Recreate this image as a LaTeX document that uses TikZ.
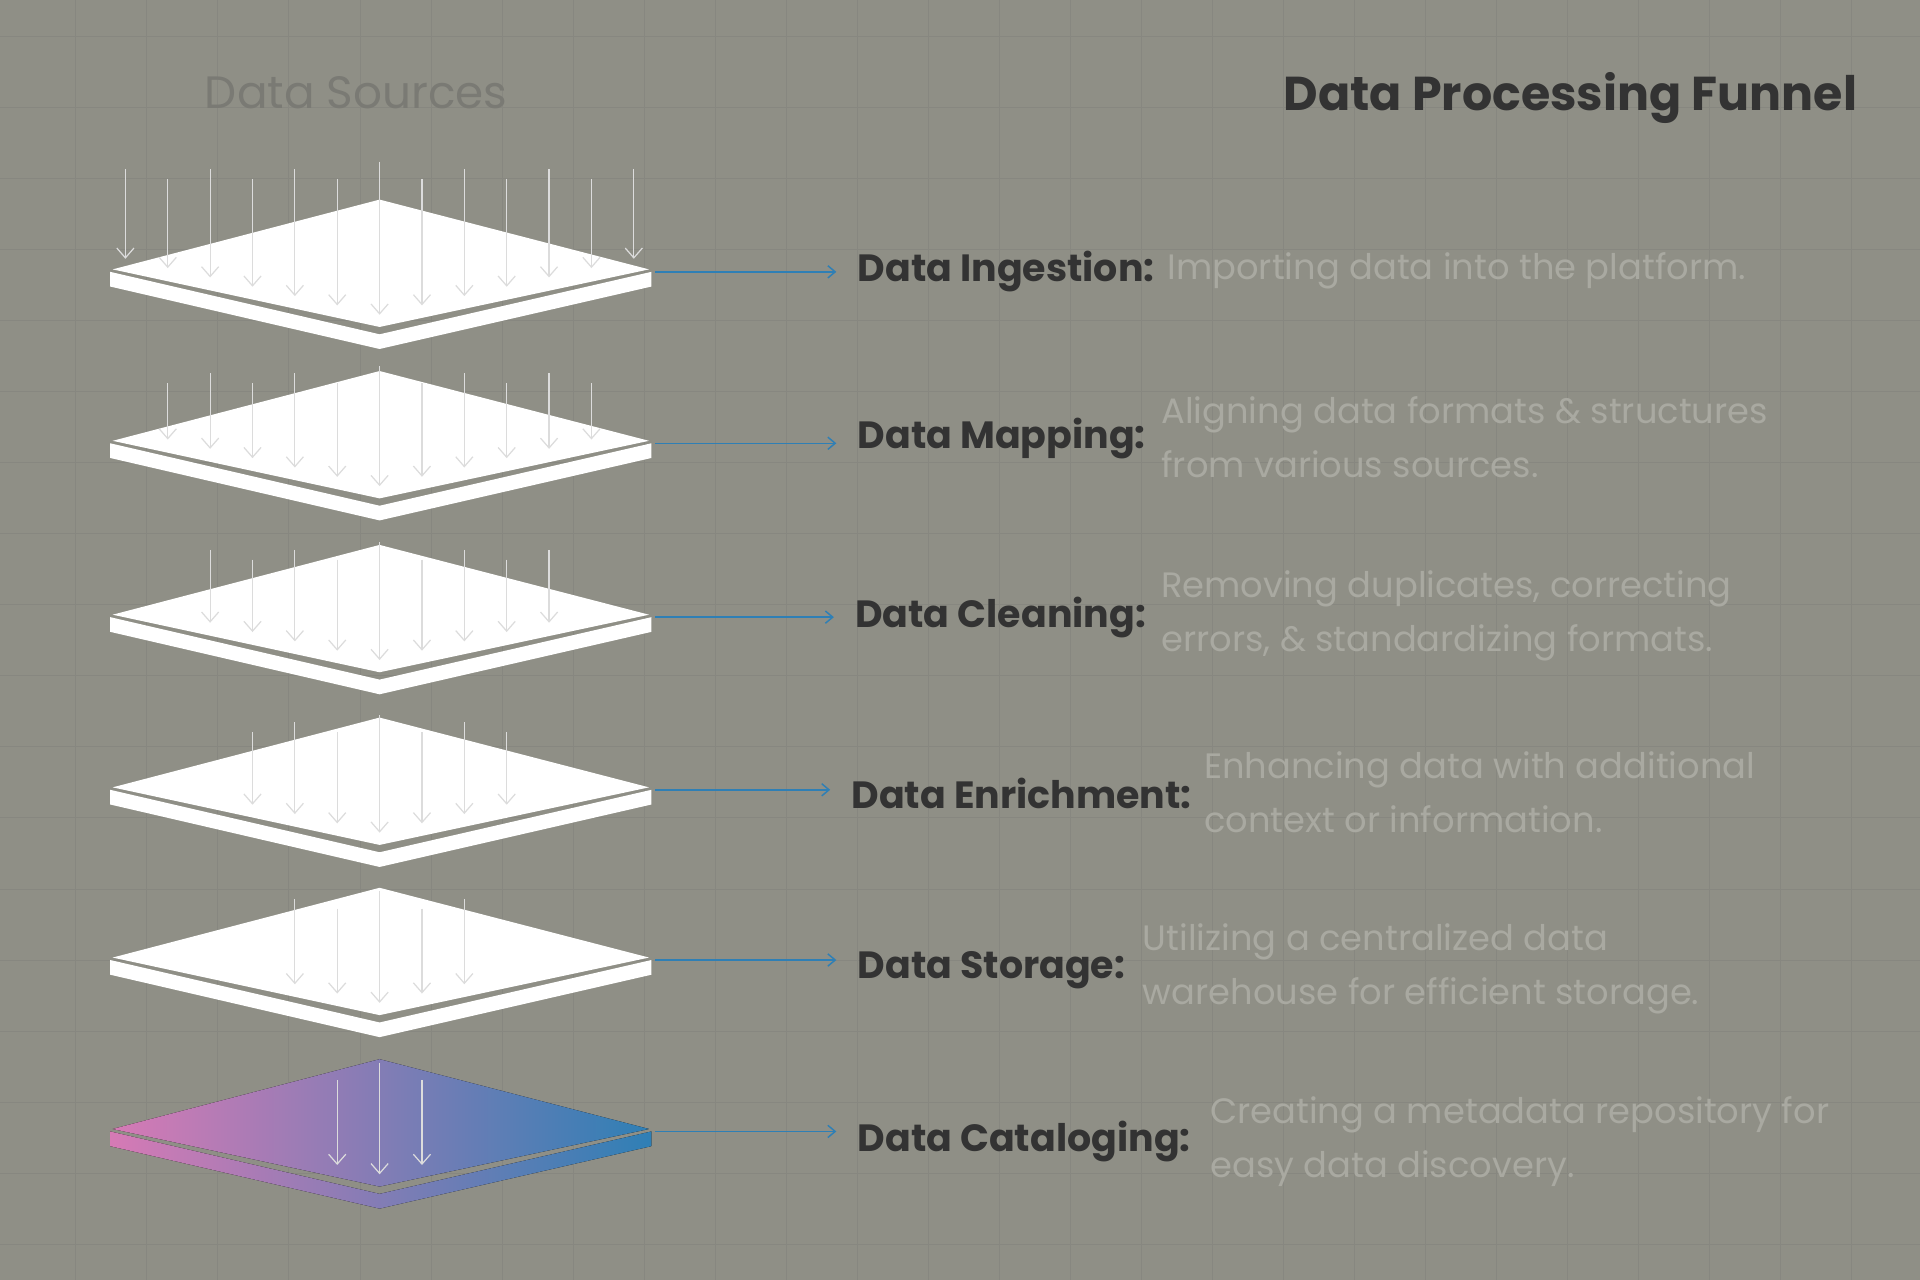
\documentclass[tikz,border=0pt]{standalone}
\usepackage{fontspec}
\setmainfont{Poppins}
\usetikzlibrary{positioning,arrows.meta}
\definecolor{BgGray}{HTML}{8F8F86}
\definecolor{GridGray}{HTML}{878780}
\definecolor{LinkBlue}{HTML}{2F7FB5}
\definecolor{FunnelPink}{HTML}{D67AB5}
\definecolor{TitleDark}{HTML}{333333}
\definecolor{DescGray}{HTML}{A9A9A1}
\definecolor{SourceGray}{HTML}{7A7A74}
\definecolor{DropGray}{HTML}{DCDCDC}
\begin{document}
\begin{tikzpicture}[x=0.5pt,y=-0.5pt]
  \tikzset{StepLabelStyle/.style = {
    anchor        = west,
    text          = TitleDark,
    font          = \fontsize{15.5}{18}\selectfont\bfseries,
    inner sep     = 0pt
    }
  }
  \tikzset{DescStyle/.style = {
    anchor        = west,
    align         = left,
    text          = DescGray,
    font          = \fontsize{14.4}{22}\selectfont,
    inner sep     = 0pt
    }
  }
  \tikzset{LinkStyle/.style = {
    draw          = LinkBlue,
    line width    = 0.6pt,
    shorten >     = 8.5pt,
    -{Straight Barb[length=3pt,width=5pt]}
    }
  }
  \tikzset{DropStyle/.style = {
    draw          = DropGray,
    line width    = 0.5pt,
    -{Straight Barb[length=4pt,width=7pt]}
    }
  }
  \fill[BgGray] (0,0) rectangle (1568,1045);
  \useasboundingbox (0,0) rectangle (1568,1045);
  \foreach \gx in {62,120,...,1568} \draw[GridGray,line width=0.4pt] (\gx,0) -- (\gx,1045);
  \foreach \gy in {30,88,...,1045} \draw[GridGray,line width=0.4pt] (0,\gy) -- (1568,\gy);

  % layers: name / centre y / number of drops / first top offset
  \foreach \name/\cy/\n/\tp in {ing/222/6/84,map/362/5/57,cln/504/4/55,enr/645/3/55,sto/784/2/50,cat/924/1/50}{
    \ifnum\n=1
      \fill[left color=FunnelPink,right color=LinkBlue] (90,\cy) -- (310,\cy+51) -- (532,\cy) -- (532,\cy+12) -- (310,\cy+63) -- (90,\cy+12) -- cycle;
      \fill[left color=FunnelPink,right color=LinkBlue] (92,\cy-2) -- (310,\cy-59) -- (530,\cy-2) -- (310,\cy+45) -- cycle;
    \else
      \fill[white] (90,\cy) -- (310,\cy+51) -- (532,\cy) -- (532,\cy+12) -- (310,\cy+63) -- (90,\cy+12) -- cycle;
      \fill[white] (92,\cy-2) -- (310,\cy-59) -- (530,\cy-2) -- (310,\cy+45) -- cycle;
    \fi
    \coordinate (\name) at (535,\cy);
    \foreach \k in {-\n,...,\n}{
      \pgfmathsetmacro{\dx}{34.6*\k}
      \pgfmathsetmacro{\tip}{\cy+35-abs(\dx)*0.22}
      \pgfmathsetmacro{\dtop}{\cy-\tp+8*mod(abs(\k),2)+(\k==0 ? -6 : 0)}
      \draw[DropStyle] (310+\dx,\dtop) -- (310+\dx,\tip);
    }
  }

  \node[anchor=west,text=SourceGray,font=\fontsize{18.5}{20}\selectfont,inner sep=0pt](sources) at (167,76) {Data Sources};
  \node[anchor=east,text=TitleDark,font=\fontsize{19.4}{22}\selectfont\bfseries,inner sep=0pt](title) at (1517,80) {Data Processing Funnel};

  \node[StepLabelStyle](Ling) at (700,222) {Data Ingestion:};
  \node[StepLabelStyle](Lmap) at (700,358) {Data Mapping:};
  \node[StepLabelStyle](Lcln) at (698,504) {Data Cleaning:};
  \node[StepLabelStyle](Lenr) at (695,648) {Data Enrichment:};
  \node[StepLabelStyle](Lsto) at (700,792) {Data Storage:};
  \node[StepLabelStyle](Lcat) at (700,932) {Data Cataloging:};

  \node[DescStyle](Ding) at (953,221) {Importing data into the platform.};
  \node[DescStyle](Dmap) at (948,357) {Aligning data formats \& structures\\from various sources.};
  \node[DescStyle](Dcln) at (948,503) {Removing duplicates, correcting\\errors, \& standardizing formats.};
  \node[DescStyle](Denr) at (983,647) {Enhancing data with additional\\context or information.};
  \node[DescStyle](Dsto) at (933,791) {Utilizing a centralized data\\warehouse for efficient storage.};
  \node[DescStyle](Dcat) at (988,932) {Creating a metadata repository for\\easy data discovery.};

  \draw[LinkStyle](ing) -- (ing -| Ling.west);
  \draw[LinkStyle](map) -- (map -| Lmap.west);
  \draw[LinkStyle](cln) -- (cln -| Lcln.west);
  \draw[LinkStyle](enr) -- (enr -| Lenr.west);
  \draw[LinkStyle](sto) -- (sto -| Lsto.west);
  \draw[LinkStyle](cat) -- (cat -| Lcat.west);
\end{tikzpicture}
\end{document}
